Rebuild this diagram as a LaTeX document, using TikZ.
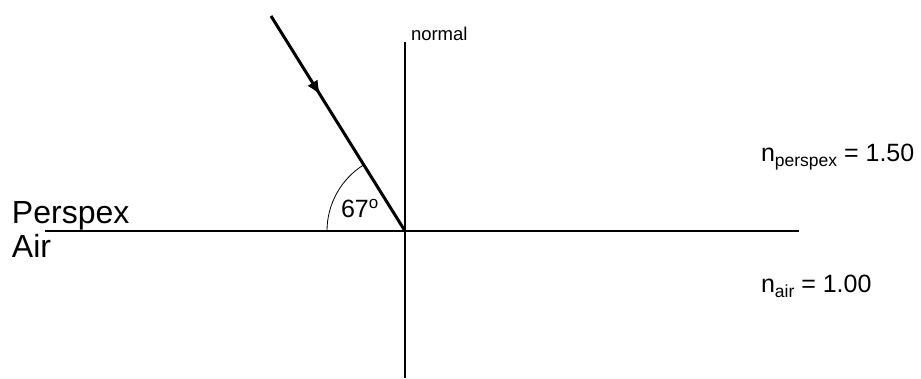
\documentclass[tikz,border=0pt]{standalone}
\usepackage{fontspec}
\setmainfont{Liberation Sans}
\usetikzlibrary{decorations.markings, arrows.meta}
\tikzset{
  axisline/.style={line width=1.2pt, black},
  raystyle/.style={line width=3pt, black,
    postaction={decorate, decoration={markings,
      mark=at position 0.37 with {\arrow{Latex[length=15pt,width=12pt]}}}}},
  anglearc/.style={line width=0.8pt, black},
  lbl/.style={anchor=base west, inner sep=0pt, outer sep=0pt},
}
\newcommand{\bigtxt}{\fontsize{32}{34}\selectfont}
\newcommand{\midtxt}{\fontsize{25}{27}\selectfont}
\newcommand{\smalltxt}{\fontsize{18.5}{20}\selectfont}
\newcommand{\subtxt}[1]{\raisebox{-5pt}{\fontsize{17.5}{18}\selectfont #1}}
\begin{document}
\begin{tikzpicture}[x=1pt,y=-1pt]
\useasboundingbox (0,0) rectangle (921,378);
\coordinate (O) at (405,231);
\coordinate (L) at (45,231);
\coordinate (R) at (799,231);
\coordinate (T) at (405,42);
\coordinate (B) at (405,378);
\coordinate (S) at (271,16);
\draw[axisline] (L) -- (R);
\draw[axisline] (T) -- (B);
\draw[raystyle] (S) -- (O);
\draw[anglearc] (O) ++(180:78) arc[start angle=180, end angle=238.07, radius=78];
\node[lbl] (normal) at (411,40) {\smalltxt normal};
\node[lbl] (perspex) at (12,223) {\bigtxt Perspex};
\node[lbl] (air) at (12,257) {\bigtxt Air};
\node[lbl] (angle) at (341,217) {\midtxt 67\raisebox{9pt}{\fontsize{17}{17}\selectfont o}};
\node[lbl] (np) at (761,161) {\midtxt n\subtxt{perspex} = 1.50};
\node[lbl] (na) at (761,292) {\midtxt n\subtxt{air} = 1.00};
\end{tikzpicture}
\end{document}
